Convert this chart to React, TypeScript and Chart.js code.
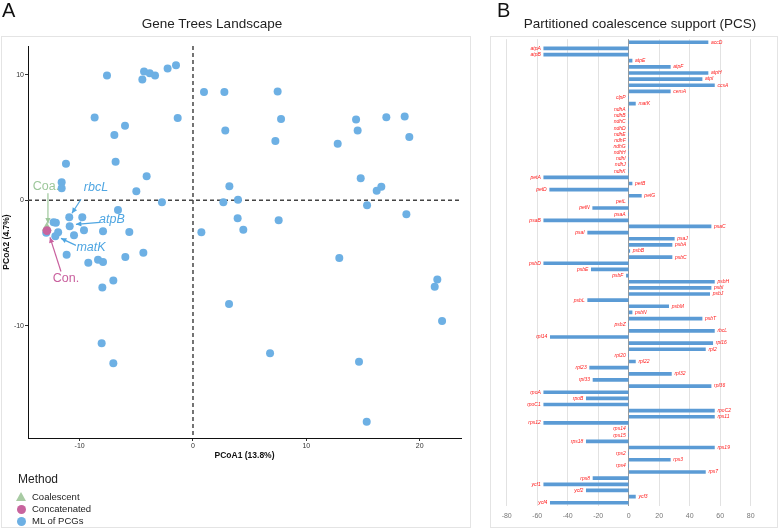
import React, { useEffect, useRef } from "react";
import { Chart, registerables } from "chart.js";

Chart.register(...registerables);
Chart.defaults.font.family = '"Liberation Sans", Arial, sans-serif';

// ---------- Panel A: Gene Trees Landscape (PCoA) ----------
const mlX = [
  -7.59, -4.32, -4.47, -3.82, -3.35, -2.24, -1.5, 0.97, 2.77, -8.68, -1.35, -6.0, -6.94, 2.85,
  -11.21, -6.83, -4.09, -11.59, -11.59, 3.21, -5.0, -2.74, 2.68, 3.97, -6.62, -10.92, -9.77,
  -12.3, -12.1, -10.88, 3.94, -11.9, -10.5, -9.62, -7.94, -5.62, 0.74, 4.44,
  -12.15, -11.15, -9.24, -8.38, -7.94, -5.97, -4.38, -7.03, -8.0, 12.91, 21.56, 21.33, 3.18,
  21.98, -8.06, -7.03, 6.8, 14.65, 15.33,
  7.47, 7.77, 7.27, 12.77, 14.39, 14.53, 17.06, 18.68, 19.09, 14.8, 16.21, 16.62, 15.36, 18.83, 7.56,
  -12.95,
];
const mlY = [
  9.94, 10.27, 9.63, 10.13, 9.94, 10.51, 10.77, 8.64, 8.64, 6.59, 6.56, 5.95, 5.2, 5.57,
  2.91, 3.07, 1.92, 1.44, 0.96, 1.12, 0.72, -0.16, -0.16, 0.03, -0.77, -1.36, -1.36,
  -1.76, -1.8, -2.08, -1.44, -2.56, -2.8, -2.4, -2.48, -2.53, -2.56, -2.35,
  -2.88, -4.35, -4.99, -4.75, -4.93, -4.53, -4.19, -6.4, -6.96, -4.61, -6.32, -6.9, -8.27,
  -9.63, -11.41, -12.99, -12.21, -12.88, -17.66,
  8.67, 6.48, 4.72, 4.5, 6.43, 5.57, 6.61, 6.67, 5.04, 1.76, 0.75, 1.07, -0.4, -1.12, -1.6,
  -2.6,
];
const coaX = [-12.9];
const coaY = [-2.2];
const conX = [-12.89];
const conY = [-2.43];

const xTickStep = 10;
const yTickStep = 10;

// annotation labels (data coordinates)
const annoText = ["Coa.", "rbcL", "atpB", "matK", "Con."];
const annoItalic = [false, true, true, true, false];
const annoColor = ["#9dc79b", "#4fa6e2", "#4fa6e2", "#4fa6e2", "#c9609e"];
const annoTX = [-12.97, -8.56, -7.15, -9.0, -11.21];
const annoTY = [1.12, 1.04, -1.52, -3.76, -6.24];
const arrowFromX = [-12.8, -9.88, -8.21, -10.33, -11.65];
const arrowFromY = [0.56, 0.08, -1.76, -3.6, -5.68];
const arrowToX = [-12.8, -10.68, -10.33, -11.65, -12.62];
const arrowToY = [-1.85, -1.04, -1.92, -3.04, -2.96];

// ---------- Panel B: PCS ----------
const pcsGenes = [
  "accD", "atpA", "atpB", "atpE", "atpF", "atpH", "atpI", "ccsA", "cemA", "clpP", "matK",
  "ndhA", "ndhB", "ndhC", "ndhD", "ndhE", "ndhF", "ndhG", "ndhH", "ndhI", "ndhJ", "ndhK",
  "petA", "petB", "petD", "petG", "petL", "petN", "psaA", "psaB", "psaC", "psaI", "psaJ",
  "psbA", "psbB", "psbC", "psbD", "psbE", "psbF", "psbH", "psbI", "psbJ", "psbL", "psbM",
  "psbN", "psbT", "psbZ", "rbcL", "rpl14", "rpl16", "rpl2", "rpl20", "rpl22", "rpl23",
  "rpl32", "rpl33", "rpl36", "rpoA", "rpoB", "rpoC1", "rpoC2", "rps11", "rps12", "rps14",
  "rps15", "rps18", "rps19", "rps2", "rps3", "rps4", "rps7", "rps8", "ycf1", "ycf2", "ycf3", "ycf4",
];
const pcsValues = [
  52, -55.7, -55.7, 2.2, 27.3, 52, 48.1, 56.2, 27.3, 0, 4.4,
  0, 0, 0, 0, 0, 0, 0, 0, 0, 0, 0,
  -55.7, 2.2, -51.8, 8.3, 0, -23.6, 0, -55.7, 54, -26.9, 29.9,
  28.4, 0.7, 28.4, -55.7, -24.5, -1.5, 56.2, 54, 53.1, -26.9, 26.2,
  2.2, 48.1, 0, 56.2, -51.4, 55.1, 50.3, 0, 4.4, -25.6,
  28, -23.4, 54, -55.7, -27.8, -55.7, 56.2, 56.2, -55.7, 0,
  0, -27.8, 56.2, 0, 27.3, 0, 50.3, -23.4, -55.7, -27.8, 4.4, -51.4,
];
const pcsTickStep = 20;

const zeroLines = {
  id: "zeroLines",
  beforeDatasetsDraw(chart: any) {
    const { ctx, chartArea, scales } = chart;
    const x0 = scales.x.getPixelForValue(0);
    const y0 = scales.y.getPixelForValue(0);
    ctx.save();
    ctx.lineWidth = 1.3;
    ctx.setLineDash([4, 3]);
    ctx.strokeStyle = "#2a2a2a";
    ctx.beginPath();
    ctx.moveTo(x0, chartArea.top);
    ctx.lineTo(x0, chartArea.bottom);
    ctx.stroke();
    ctx.strokeStyle = "#444";
    ctx.beginPath();
    ctx.moveTo(chartArea.left, y0);
    ctx.lineTo(chartArea.right, y0);
    ctx.stroke();
    ctx.restore();
  },
};

const annotations = {
  id: "annotations",
  afterDatasetsDraw(chart: any) {
    const { ctx, scales } = chart;
    const sx = scales.x, sy = scales.y;
    ctx.save();
    for (let i = 0; i < annoText.length; i++) {
      const c = annoColor[i];
      ctx.font = (annoItalic[i] ? "italic " : "") + '12.5px "Liberation Sans", Arial, sans-serif';
      ctx.fillStyle = c;
      ctx.textAlign = "center";
      ctx.textBaseline = "middle";
      ctx.fillText(annoText[i], sx.getPixelForValue(annoTX[i]), sy.getPixelForValue(annoTY[i]));
      const x1 = sx.getPixelForValue(arrowFromX[i]);
      const y1 = sy.getPixelForValue(arrowFromY[i]);
      const x2 = sx.getPixelForValue(arrowToX[i]);
      const y2 = sy.getPixelForValue(arrowToY[i]);
      ctx.strokeStyle = c;
      ctx.lineWidth = 1.2;
      ctx.beginPath();
      ctx.moveTo(x1, y1);
      ctx.lineTo(x2, y2);
      ctx.stroke();
      const ang = Math.atan2(y2 - y1, x2 - x1);
      const L = 6, W = 0.45;
      ctx.beginPath();
      ctx.moveTo(x2, y2);
      ctx.lineTo(x2 - L * Math.cos(ang - W), y2 - L * Math.sin(ang - W));
      ctx.lineTo(x2 - L * Math.cos(ang + W), y2 - L * Math.sin(ang + W));
      ctx.closePath();
      ctx.fill();
    }
    ctx.restore();
  },
};

const barLabels = {
  id: "barLabels",
  afterDatasetsDraw(chart: any) {
    const { ctx, scales } = chart;
    const meta = chart.getDatasetMeta(0);
    ctx.save();
    ctx.font = 'italic 5px "Liberation Sans", Arial, sans-serif';
    ctx.fillStyle = "#ff1a1a";
    ctx.textBaseline = "middle";
    pcsValues.forEach((v, i) => {
      const y = meta.data[i].y;
      const xe = scales.x.getPixelForValue(v);
      if (v > 0) {
        ctx.textAlign = "left";
        ctx.fillText(pcsGenes[i], xe + 3, y);
      } else {
        ctx.textAlign = "right";
        ctx.fillText(pcsGenes[i], xe - 3, y);
      }
    });
    ctx.restore();
  },
};

export default function App() {
  const refA = useRef<HTMLCanvasElement>(null);
  const refB = useRef<HTMLCanvasElement>(null);

  useEffect(() => {
    document.body.style.margin = "0";
    const mlPoints = mlX.map((x, i) => ({ x, y: mlY[i] }));
    const chartA = new Chart(refA.current as HTMLCanvasElement, {
      type: "scatter",
      data: {
        datasets: [
          {
            label: "Concatenated",
            data: conX.map((x, i) => ({ x, y: conY[i] })),
            backgroundColor: "#c8649e",
            borderWidth: 0,
            pointRadius: 4.4,
            order: 1,
          },
          {
            label: "Coalescent",
            data: coaX.map((x, i) => ({ x, y: coaY[i] })),
            backgroundColor: "#a8cba3",
            borderWidth: 0,
            pointStyle: "triangle",
            pointRadius: 5.8,
            order: 2,
          },
          {
            label: "ML of PCGs",
            data: mlPoints,
            backgroundColor: "#6db0e4",
            borderWidth: 0,
            pointRadius: 4,
            order: 3,
          },
        ],
      },
      options: {
        responsive: false,
        animation: false,
        events: [],
        layout: { padding: { left: 0, top: 46, right: 14, bottom: 68 } },
        plugins: { legend: { display: false }, tooltip: { enabled: false } },
        scales: {
          x: {
            type: "linear",
            min: -14.56,
            max: 23.65,
            ticks: { stepSize: xTickStep, includeBounds: false, color: "#333", font: { size: 7 }, padding: 1, maxRotation: 0 },
            grid: { drawOnChartArea: false, tickLength: 3, color: "#333" },
            border: { color: "#111", width: 1 },
            title: { display: true, text: "PCoA1 (13.8%)", color: "#111", font: { size: 8.5, weight: "bold" }, padding: 0 },
            afterFit: (s: any) => { s.height = 23; },
          },
          y: {
            type: "linear",
            min: -18.96,
            max: 12.3,
            ticks: { stepSize: yTickStep, includeBounds: false, color: "#333", font: { size: 7 }, padding: 1 },
            grid: { drawOnChartArea: false, tickLength: 3, color: "#333" },
            border: { color: "#111", width: 1 },
            title: { display: true, text: "PCoA2 (4.7%)", color: "#111", font: { size: 8.5, weight: "bold" }, padding: { top: 2, bottom: 0 } },
            afterFit: (s: any) => { s.width = 28; },
          },
        },
      } as any,
      plugins: [zeroLines, annotations],
    });

    const chartB = new Chart(refB.current as HTMLCanvasElement, {
      type: "bar",
      data: {
        labels: pcsGenes,
        datasets: [{ data: pcsValues, backgroundColor: "#5b9bd5", barThickness: 3 }],
      },
      options: {
        indexAxis: "y",
        responsive: false,
        animation: false,
        events: [],
        layout: { padding: { left: 16.7, top: 39.2, right: 27.3, bottom: 3.2 } },
        plugins: { legend: { display: false }, tooltip: { enabled: false } },
        scales: {
          x: {
            min: -80,
            max: 80,
            ticks: { stepSize: pcsTickStep, color: "#777", font: { size: 7 }, padding: 6 },
            grid: {
              drawTicks: false,
              color: (c: any) => (c.tick && c.tick.value === 0 ? "#9a9a9a" : "#e2e2e2"),
              lineWidth: 1,
            },
            border: { display: false },
            afterFit: (s: any) => { s.height = 20; },
          },
          y: { display: false },
        },
      } as any,
      plugins: [barLabels],
    });

    return () => {
      chartA.destroy();
      chartB.destroy();
    };
  }, []);

  const font = '"Liberation Sans", Arial, sans-serif';
  const abs = (l: number, t: number, extra: any = {}) => ({ position: "absolute" as const, left: l, top: t, ...extra });

  return (
    <div style={{ position: "absolute", left: 0, top: 0, width: 778, height: 529, background: "#fff", fontFamily: font, color: "#111", overflow: "hidden" }}>
      <div style={abs(1, 36, { width: 468, height: 490, border: "1px solid #e4e4e4" })} />
      <div style={abs(490, 36, { width: 286, height: 490, border: "1px solid #e4e4e4" })} />
      <canvas ref={refA} width={475} height={529} style={abs(0, 0, { width: 475, height: 529 })} />
      <canvas ref={refB} width={288} height={529} style={abs(490, 0, { width: 288, height: 529 })} />
      <div style={abs(2, 0, { fontSize: 20, lineHeight: "20px" })}>A</div>
      <div style={abs(212, 24, { fontSize: 13.5, lineHeight: "14px", transform: "translate(-50%,-50%)", whiteSpace: "nowrap", color: "#222" })}>Gene Trees Landscape</div>
      <div style={abs(497, 0, { fontSize: 20, lineHeight: "20px" })}>B</div>
      <div style={abs(640, 24, { fontSize: 13.5, lineHeight: "14px", transform: "translate(-50%,-50%)", whiteSpace: "nowrap", color: "#222" })}>Partitioned coalescence support (PCS)</div>
      <div style={abs(18, 472, { fontSize: 12, lineHeight: "14px", color: "#222" })}>Method</div>
      <div style={abs(16, 492, { width: 0, height: 0, borderLeft: "5px solid transparent", borderRight: "5px solid transparent", borderBottom: "9px solid #a8cba3" })} />
      <div style={abs(16.5, 504.5, { width: 9, height: 9, borderRadius: "50%", background: "#c8649e" })} />
      <div style={abs(16.5, 516.5, { width: 9, height: 9, borderRadius: "50%", background: "#6db0e4" })} />
      <div style={abs(32, 491, { fontSize: 9.5, lineHeight: "12px", color: "#222" })}>Coalescent</div>
      <div style={abs(32, 503, { fontSize: 9.5, lineHeight: "12px", color: "#222" })}>Concatenated</div>
      <div style={abs(32, 515, { fontSize: 9.5, lineHeight: "12px", color: "#222" })}>ML of PCGs</div>
    </div>
  );
}
